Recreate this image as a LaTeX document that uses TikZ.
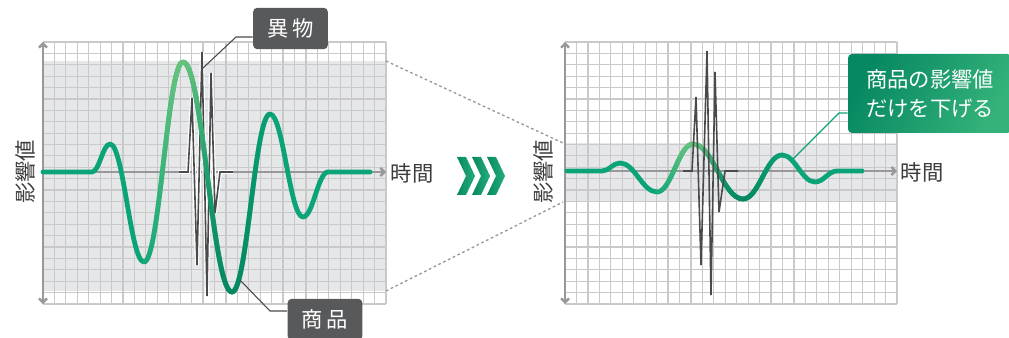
\documentclass[tikz,border=0pt]{standalone}
\usepackage{fontspec}
\setmainfont{Noto Sans CJK JP}
\usetikzlibrary{arrows.meta,fadings}
\definecolor{gridgray}{RGB}{201,201,203}
\definecolor{bandgray}{RGB}{230,231,232}
\definecolor{axisgray}{RGB}{152,152,154}
\definecolor{spikegray}{RGB}{74,74,76}
\definecolor{taggray}{RGB}{88,89,91}
\definecolor{labelgray}{RGB}{60,60,62}
\definecolor{wavegreen}{RGB}{10,164,120}
\definecolor{darkgreen}{RGB}{6,136,98}
\definecolor{lightgreen}{RGB}{104,196,124}
\tikzset{every picture/.style={line width=0.75pt}}
\tikzfading[name=peakfade, top color=transparent!0, middle color=transparent!100, bottom color=transparent!100]
\tikzfading[name=troughfade, top color=transparent!100, middle color=transparent!100, bottom color=transparent!0]
\tikzset{
  gridline/.style={draw=gridgray, line width=0.9pt},
  axisline/.style={draw=axisgray, line width=1.8pt},
  wave/.style={draw=wavegreen, line width=3.6pt, line cap=round, line join=round},
  spike/.style={draw=spikegray, line width=1.2pt},
  leader/.style={draw=spikegray, line width=0.8pt},
  tag/.style={fill=taggray, text=white, rounded corners=3pt, inner sep=0pt,
    font=\fontsize{16}{18}\selectfont, minimum width=56pt, minimum height=31pt},
  axislabel/.style={text=labelgray, inner sep=0pt, font=\fontsize{16}{18}\selectfont},
}

\begin{document}
\begin{tikzpicture}[x=0.75pt,y=0.75pt,yscale=-1,xscale=1]
\useasboundingbox (0,0) rectangle (1009,338);

%Shape: Rectangle [left band]
\fill [bandgray] (43,61) rectangle (386,291);
%Shape: Rectangle [right band]
\fill [bandgray] (565,143) rectangle (897,202);

%Shape: Grid [left]
\foreach \i in {0,...,30} \draw [gridline] (43+\i*11.433,42) -- (43+\i*11.433,304);
\foreach \j in {0,...,23} \draw [gridline] (43,42+\j*11.39) -- (386,42+\j*11.39);
%Shape: Grid [right]
\foreach \i in {0,...,29} \draw [gridline] (565+\i*11.448,42) -- (565+\i*11.448,304);
\foreach \j in {0,...,23} \draw [gridline] (565,42+\j*11.39) -- (897,42+\j*11.39);

%Straight Lines [zoom guides]
\draw [axisgray, line width=1pt, dash pattern=on 2pt off 2pt] (386,61) -- (563,143);
\draw [axisgray, line width=1pt, dash pattern=on 2pt off 2pt] (386,291) -- (563,202);

%Straight Lines [left axes]
\draw [axisline, {Straight Barb[length=3pt,width=6pt]}-{Straight Barb[length=3pt,width=6pt]}] (43,42) -- (43,304);
\draw [axisline, -{Straight Barb[length=3pt,width=6pt]}] (43,172) -- (386,172);
%Straight Lines [right axes]
\draw [axisline, {Straight Barb[length=3pt,width=6pt]}-{Straight Barb[length=3pt,width=6pt]}] (565,42) -- (565,304);
\draw [axisline, -{Straight Barb[length=3pt,width=6pt]}] (565,171) -- (897,171);

%Straight Lines [left foreign object]
\draw [spike, preaction={draw=white, line width=3pt}] (179,172) -- (188,172) -- (192,98) -- (197,265) -- (202,52) -- (207,296) -- (211,73) -- (215,213) -- (220,172) -- (233,172);

%Curve Lines [left product wave]
\draw [wave] (43,172) -- (92,172) .. controls (99.2,172) and (102.8,144) .. (110,144)
  .. controls (123.6,144) and (130.4,262) .. (144,262)
  .. controls (159.6,262) and (167.4,62) .. (183,62)
  .. controls (202.6,62) and (212.4,292) .. (232,292)
  .. controls (247.2,292) and (254.8,114) .. (270,114)
  .. controls (283.2,114) and (289.8,217) .. (303,217)
  .. controls (313,217) and (318,172) .. (328,172) -- (370,172);
\draw [wave, draw=lightgreen, path fading=peakfade] (144,262) .. controls (159.6,262) and (167.4,62) .. (183,62)
  .. controls (202.6,62) and (212.4,292) .. (232,292);
\draw [wave, draw=darkgreen, path fading=troughfade] (183,62) .. controls (202.6,62) and (212.4,292) .. (232,292)
  .. controls (247.2,292) and (254.8,114) .. (270,114);

%Curve Lines [right product wave]
\draw [wave] (567,171) -- (602,171) .. controls (609.2,171) and (612.8,163) .. (620,163)
  .. controls (634.8,163) and (642.2,192) .. (657,192)
  .. controls (671.4,192) and (678.6,144) .. (693,144)
  .. controls (713,144) and (723,199) .. (743,199)
  .. controls (758.6,199) and (766.4,155) .. (782,155)
  .. controls (795.2,155) and (801.8,182) .. (815,182)
  .. controls (823.8,182) and (828.2,171) .. (837,171) -- (862,171);
\draw [wave, draw=lightgreen, path fading=peakfade] (657,192) .. controls (671.4,192) and (678.6,144) .. (693,144)
  .. controls (713,144) and (723,199) .. (743,199);
\draw [wave, draw=darkgreen, path fading=troughfade] (693,144) .. controls (713,144) and (723,199) .. (743,199)
  .. controls (758.6,199) and (766.4,155) .. (782,155);

%Straight Lines [right foreign object]
\draw [spike] (683,171) -- (692,171) -- (696,97) -- (701,265) -- (707,51) -- (711,295) -- (715,72) -- (719,212) -- (725,171) -- (738,171);

%Shape: Chevrons
\foreach \cx in {457,472,487}
  \shade [left color=darkgreen, right color=wavegreen!70!lightgreen] (\cx,157) -- (\cx+9,157) -- (\cx+18,176) -- (\cx+9,195) -- (\cx,195) -- (\cx+9,176) -- cycle;

% Text Node
\node [axislabel, rotate=90] (eikyoL) at (25,172) {影響値};
% Text Node
\node [axislabel] (jikanL) at (412,173) {時間};
% Text Node
\node [axislabel, rotate=90] (eikyoR) at (543,172) {影響値};
% Text Node
\node [axislabel] (jikanR) at (922,172) {時間};

% Text Node
\node [tag] (ibutsu) at (290.5,28.5) {異\hspace{3pt}物};
% Text Node
\node [tag] (shohin) at (325,319.5) {商\hspace{3pt}品};
% Text Node
\node [text=white, rounded corners=3pt, inner sep=0pt, align=center,
  left color=darkgreen, middle color=wavegreen, right color=wavegreen!55!lightgreen, shading angle=60,
  font=\fontsize{16}{21.75}\selectfont, minimum width=123pt, minimum height=59.25pt] (note) at (930,93.5) {商品の影響値\\だけを下げる};

%Straight Lines [leaders]
\coordinate (spiketop) at (203,68);
\coordinate (bendA) at (236,37);
\draw [leader] (spiketop) -- (bendA) -- (bendA -| ibutsu.west);
\coordinate (troughtwo) at (240,280);
\coordinate (bendB) at (270,311);
\draw [leader] (troughtwo) -- (bendB) -- (bendB -| shohin.west);
\coordinate (peakright) at (793,159);
\coordinate (bendC) at (839,113);
\draw [draw=wavegreen, line width=0.9pt] (peakright) -- (bendC) -- (bendC -| note.west);

\end{tikzpicture}
\end{document}
